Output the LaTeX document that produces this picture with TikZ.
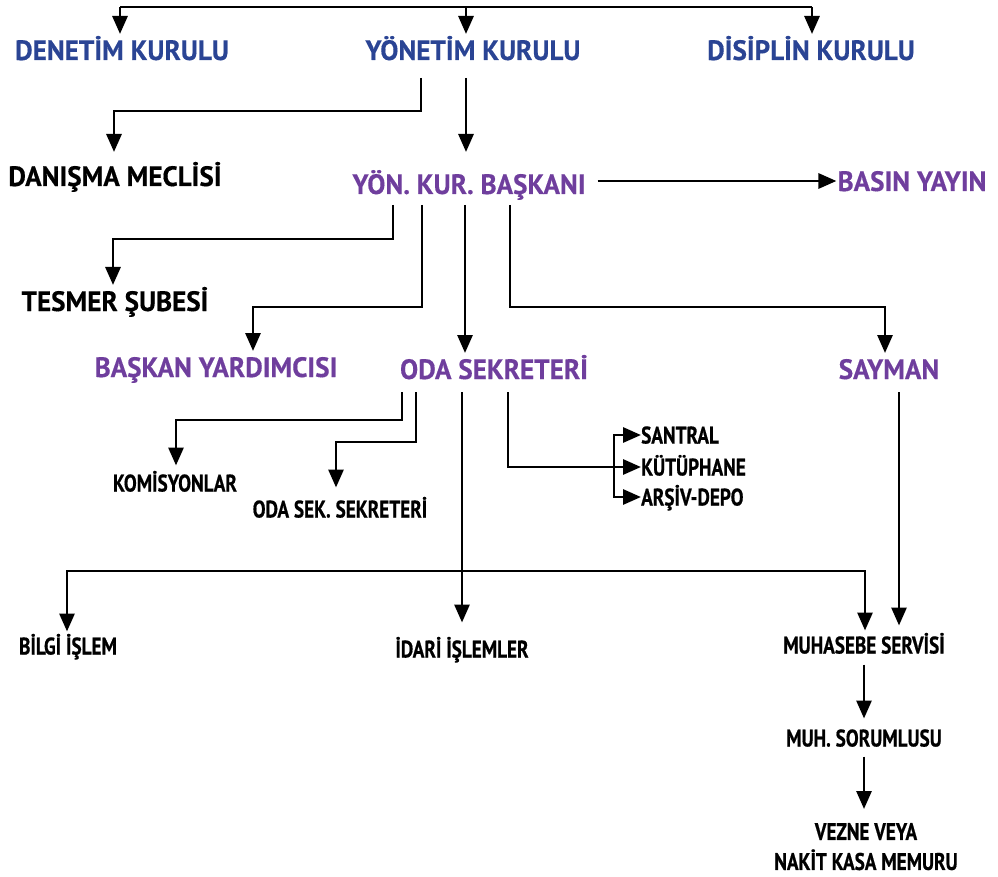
\documentclass[tikz,border=0pt]{standalone}
\usepackage{fontspec}
\setmainfont{PT Sans}[FakeStretch=0.97,BoldFeatures={FakeBold=0.4}]
\newfontfamily\condfont{PT Sans}[FakeStretch=0.8,BoldFeatures={FakeBold=0.6}]
\usetikzlibrary{arrows.meta,calc}
\definecolor{kblue}{RGB}{42,68,148}
\definecolor{kpurple}{RGB}{111,62,157}
\tikzset{
  hd/.style={font=\fontsize{28}{32}\selectfont\bfseries, text height=20pt, text depth=0pt, inner sep=0pt, outer ysep=6pt},
  lbfont/.style={font=\condfont\fontsize{24}{30}\selectfont\bfseries, inner sep=0pt, outer ysep=6pt},
  lb/.style={lbfont, text height=17pt, text depth=0pt},
  ln/.style={line width=2.9pt},
  arr/.style={ln, -{Triangle[length=18pt,width=15pt]}}
}
\begin{document}
\begin{tikzpicture}[x=1pt,y=-1pt]
\useasboundingbox (0,0) rectangle (998,877);
% nodes
\node[hd,text=kblue] (dk) at (122,50) {DENETİM KURULU};
\node[hd,text=kblue] (yk) at (473,50) {YÖNETİM KURULU};
\node[hd,text=kblue] (dis) at (811,50) {DİSİPLİN KURULU};
\node[hd] (dm) at (115,176) {DANIŞMA MECLİSİ};
\node[hd,text=kpurple] (ykb) at (469,184) {YÖN. KUR. BAŞKANI};
\node[hd,text=kpurple] (basin) at (912,181) {BASIN YAYIN};
\node[hd] (tes) at (115,301) {TESMER ŞUBESİ};
\node[hd,text=kpurple] (by) at (216,367) {BAŞKAN YARDIMCISI};
\node[hd,text=kpurple] (oda) at (494,369) {ODA SEKRETERİ};
\node[hd,text=kpurple] (say) at (889,369) {SAYMAN};
\node[lb] (kom) at (175,483) {KOMİSYONLAR};
\node[lb] (osek) at (340,509) {ODA SEK. SEKRETERİ};
\node[lb,anchor=west] (san) at (641,435) {SANTRAL};
\node[lb,anchor=west] (kut) at (641,467) {KÜTÜPHANE};
\node[lb,anchor=west] (ars) at (641,497) {ARŞİV-DEPO};
\node[lb] (bil) at (68,646) {BİLGİ İŞLEM};
\node[lb] (idr) at (462,649) {İDARİ İŞLEMLER};
\node[lb] (muh) at (864,645) {MUHASEBE SERVİSİ};
\node[lb] (muhs) at (864,738) {MUH. SORUMLUSU};
\node[lbfont,align=center,anchor=north] (vez) at (866,817) {VEZNE VEYA\\NAKİT KASA MEMURU};
% top bar
\coordinate (t1) at (120,7);
\coordinate (t2) at (466,7);
\coordinate (t3) at (812,7);
\draw[ln] (t1) -- (t3);
\draw[arr] (t1) -- (t1 |- dk.north);
\draw[arr] (t2) -- (t2 |- yk.north);
\draw[arr] (t3) -- (t3 |- dis.north);
% yonetim kurulu
\draw[arr] ($(yk.south -| 421,0)+(0,12)$) -- ++(0,33) -| ($(dm.north -| 114,0)+(0,-8)$);
\draw[arr] ($(yk.south -| 466,0)+(0,12)$) -- ($(ykb.north -| 466,0)+(0,-16)$);
% baskan
\draw[arr] ($(ykb.east |- basin.west)+(12,0)$) -- ($(basin.west)+(-1,0)$);
\draw[arr] ($(ykb.south -| 393,0)+(0,5)$) -- ++(0,34) -| (tes.north -| 113,0);
\draw[arr] ($(ykb.south -| 422,0)+(0,5)$) -- ++(0,102) -| (by.north -| 253,0);
\draw[arr] ($(ykb.south -| 465,0)+(0,5)$) -- (oda.north -| 465,0);
\draw[arr] ($(ykb.south -| 510,0)+(0,5)$) -- ++(0,102) -| (say.north -| 885,0);
% oda sekreteri
\draw[arr] ($(oda.south -| 402,0)+(0,7)$) -- ++(0,28) -| ($(kom.north -| 176,0)+(0,-3)$);
\draw[arr] ($(oda.south -| 416,0)+(0,7)$) -- ++(0,50) -| ($(osek.north -| 336,0)+(0,-7)$);
\draw[arr] ($(oda.south -| 462,0)+(0,7)$) -- ($(idr.north -| 462,0)+(0,-12)$);
\draw[arr] ($(oda.south -| 508,0)+(0,7)$) |- (kut.west);
\coordinate (br) at (614,467);
\draw[arr] (br) |- (san.west);
\draw[arr] (br) |- (ars.west);
\coordinate (bar) at (462,571);
\draw[arr] (bar) -| (bil.north -| 67,0);
\draw[arr] (bar) -| (muh.north -| 865,0);
% sayman / muhasebe
\draw[arr] ($(say.south -| 899,0)+(0,7)$) -- ($(muh.north -| 899,0)+(0,-5)$);
\draw[arr] ($(muh.south)+(0,5)$) -- ($(muhs.north)+(0,-5)$);
\draw[arr] ($(muhs.south)+(0,4)$) -- ($(vez.north -| muhs.south)+(0,-8)$);
\end{tikzpicture}
\end{document}
